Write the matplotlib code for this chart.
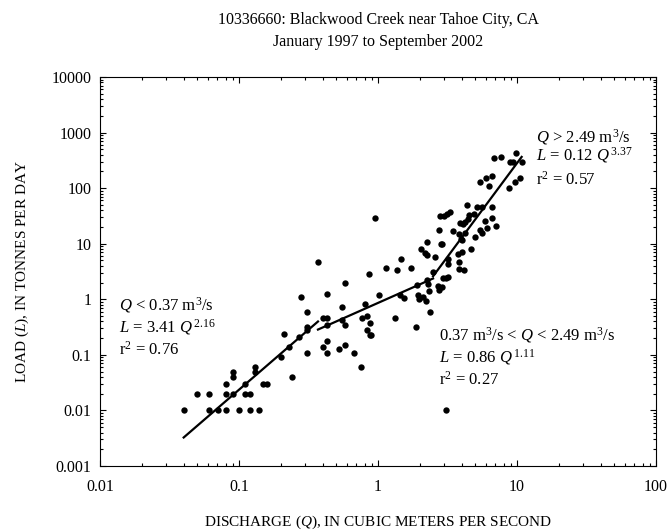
import numpy as np
import matplotlib
matplotlib.use('Agg')
import matplotlib.pyplot as plt
from matplotlib.ticker import LogLocator, NullFormatter, FixedLocator, FixedFormatter

plt.rcParams['font.family'] = ['Liberation Serif', 'DejaVu Serif']
plt.rcParams['mathtext.fontset'] = 'custom'
plt.rcParams['mathtext.rm'] = 'Liberation Serif'
plt.rcParams['mathtext.it'] = 'Liberation Serif:italic'

title1 = '10336660: Blackwood Creek near Tahoe City, CA'
title2 = 'January 1997 to September 2002'

# discharge (m3/s) and load (tonnes/day)
Q = [0.040, 0.050, 0.061, 0.061, 0.071, 0.080, 0.080, 0.080, 0.090, 0.090,
     0.090, 0.100, 0.110, 0.110, 0.120, 0.120, 0.130, 0.130, 0.140, 0.150,
     0.160, 0.200, 0.210, 0.230, 0.240, 0.270, 0.280, 0.310, 0.310, 0.310,
     0.310, 0.370, 0.400, 0.400, 0.430, 0.430, 0.430, 0.430, 0.430, 0.520,
     0.550, 0.550, 0.580, 0.580, 0.580, 0.670, 0.760, 0.770, 0.810, 0.840,
     0.840, 0.860, 0.870, 0.870, 0.890, 0.950, 1.01, 1.15, 1.32, 1.36,
     1.43, 1.46, 1.54, 1.73, 1.89, 1.91, 1.94, 1.96, 2.04, 2.10,
     2.17, 2.20, 2.24, 2.24, 2.25, 2.30, 2.34, 2.37, 2.47, 2.59,
     2.70, 2.74, 2.76, 2.80, 2.84, 2.89, 2.90, 2.95, 2.98, 3.06,
     3.10, 3.14, 3.18, 3.18, 3.18, 3.30, 3.47, 3.76, 3.80, 3.85,
     3.85, 3.90, 3.95, 4.00, 4.05, 4.10, 4.16, 4.20, 4.26, 4.37,
     4.42, 4.54, 4.66, 4.90, 5.00, 5.16, 5.42, 5.42, 5.56, 5.64,
     5.86, 5.97, 6.10, 6.30, 6.56, 6.56, 6.56, 6.80, 7.10, 7.70,
     8.70, 8.90, 9.40, 9.70, 9.90, 10.5, 10.9]
L = [0.01, 0.02, 0.02, 0.01, 0.01, 0.01, 0.02, 0.03, 0.02, 0.04,
     0.05, 0.01, 0.03, 0.02, 0.02, 0.01, 0.06, 0.05, 0.01, 0.03,
     0.03, 0.09, 0.24, 0.14, 0.04, 0.21, 1.08, 0.58, 0.28, 0.32,
     0.11, 4.7, 0.46, 0.14, 0.46, 1.23, 0.18, 0.11, 0.35, 0.13,
     0.74, 0.42, 1.94, 0.35, 0.15, 0.11, 0.06, 0.46, 0.82, 0.50,
     0.28, 2.9, 0.37, 0.23, 0.23, 28.5, 1.2, 3.6, 0.46, 3.3,
     1.2, 5.2, 1.06, 3.7, 0.32, 1.8, 1.2, 1.0, 8.1, 1.1,
     6.7, 0.95, 10.6, 6.3, 2.2, 1.9, 1.43, 0.6, 3.1, 5.8,
     1.7, 1.47, 17.6, 31.4, 9.9, 1.69, 9.9, 2.4, 32.0, 0.01,
     2.4, 34.0, 2.55, 4.3, 5.2, 36.6, 16.6, 6.5, 3.45, 4.75,
     14.9, 23.8, 12.4, 7.1, 11.7, 23.0, 3.3, 15.3, 25.0, 50.0,
     27.5, 32.8, 8.2, 34.0, 13.4, 46.0, 17.6, 130.0, 45.0, 15.3,
     26.0, 155.0, 18.9, 111.0, 46.0, 165.0, 28.5, 343.0, 20.8, 366.0,
     100.0, 300.0, 294.0, 130.0, 430.0, 155.0, 297.0]

# regression segments: L = a * Q^b over [q_lo, q_hi]
coef_a = [3.41, 0.86, 0.12]
coef_b = [2.16, 1.11, 3.37]
q_lo = [0.04, 0.37, 2.49]
q_hi = [0.37, 2.49, 10.8]

fig = plt.figure(figsize=(6.68, 5.31), dpi=100)
ax = fig.add_axes([0.1497, 0.1224, 0.8323, 0.7326])

ax.scatter(Q, L, s=21, color='black', zorder=3, linewidths=0)
for a, b, lo, hi in zip(coef_a, coef_b, q_lo, q_hi):
    qq = np.array([lo, hi])
    ax.plot(qq, a * qq ** b, color='black', lw=1.6, zorder=2)

ax.set_xscale('log')
ax.set_yscale('log')
ax.set_xlim(0.01, 100)
ax.set_ylim(0.001, 10000)

xt = [0.01, 0.1, 1, 10, 100]
yt = [0.001, 0.01, 0.1, 1, 10, 100, 1000, 10000]
ax.xaxis.set_major_locator(FixedLocator(xt))
ax.xaxis.set_major_formatter(FixedFormatter(['0.01', '0.1', '1', '10', '100']))
ax.yaxis.set_major_locator(FixedLocator(yt))
ax.yaxis.set_major_formatter(FixedFormatter(['0.001', '0.01', '0.1', '1', '10', '100', '1000', '10000']))
ax.xaxis.set_minor_locator(LogLocator(base=10, subs=np.arange(2, 10), numticks=20))
ax.yaxis.set_minor_locator(LogLocator(base=10, subs=np.arange(2, 10), numticks=20))
ax.xaxis.set_minor_formatter(NullFormatter())
ax.yaxis.set_minor_formatter(NullFormatter())

ax.tick_params(which='both', direction='in', top=True, right=True, labelsize=11.5, width=0.8)
ax.tick_params(which='major', length=4)
ax.tick_params(which='minor', length=2.5)
ax.tick_params(axis='x', which='major', pad=9)
ax.tick_params(axis='y', which='major', pad=6)
for sp in ax.spines.values():
    sp.set_linewidth(0.8)

fs = 12
ax.text(13.7, 835, '$Q$ > 2.49 m$^3$/s', fontsize=fs, va='center', ha='left')
ax.text(13.7, 392, '$L$ = 0.12 $Q^{\\,3.37}$', fontsize=fs, va='center', ha='left')
ax.text(13.7, 139, 'r$^2$ = 0.57', fontsize=fs, va='center', ha='left')

ax.text(0.0138, 0.79, '$Q$ < 0.37 m$^3$/s', fontsize=fs, va='center', ha='left')
ax.text(0.0138, 0.32, '$L$ = 3.41 $Q^{\\,2.16}$', fontsize=fs, va='center', ha='left')
ax.text(0.0138, 0.123, 'r$^2$ = 0.76', fontsize=fs, va='center', ha='left')

ax.text(2.77, 0.229, '0.37 m$^3$/s < $Q$ < 2.49 m$^3$/s', fontsize=fs, va='center', ha='left')
ax.text(2.77, 0.093, '$L$ = 0.86 $Q^{\\,1.11}$', fontsize=fs, va='center', ha='left')
ax.text(2.77, 0.0356, 'r$^2$ = 0.27', fontsize=fs, va='center', ha='left')

fig.text(0.566, 1 - 20 / 531, title1, fontsize=11.5, ha='center', va='center')
fig.text(0.566, 1 - 42 / 531, title2, fontsize=11.5, ha='center', va='center')

fig.text(0.566, 1 - 522 / 531, 'DISCHARGE ($Q$), IN CUBIC METERS PER SECOND',
         fontsize=11, ha='center', va='center')
fig.text(22 / 668, 0.1224 + 0.7326 / 2, 'LOAD ($L$), IN TONNES PER DAY',
         fontsize=11, ha='center', va='center', rotation=90)

fig.savefig('out.png', dpi=100)
